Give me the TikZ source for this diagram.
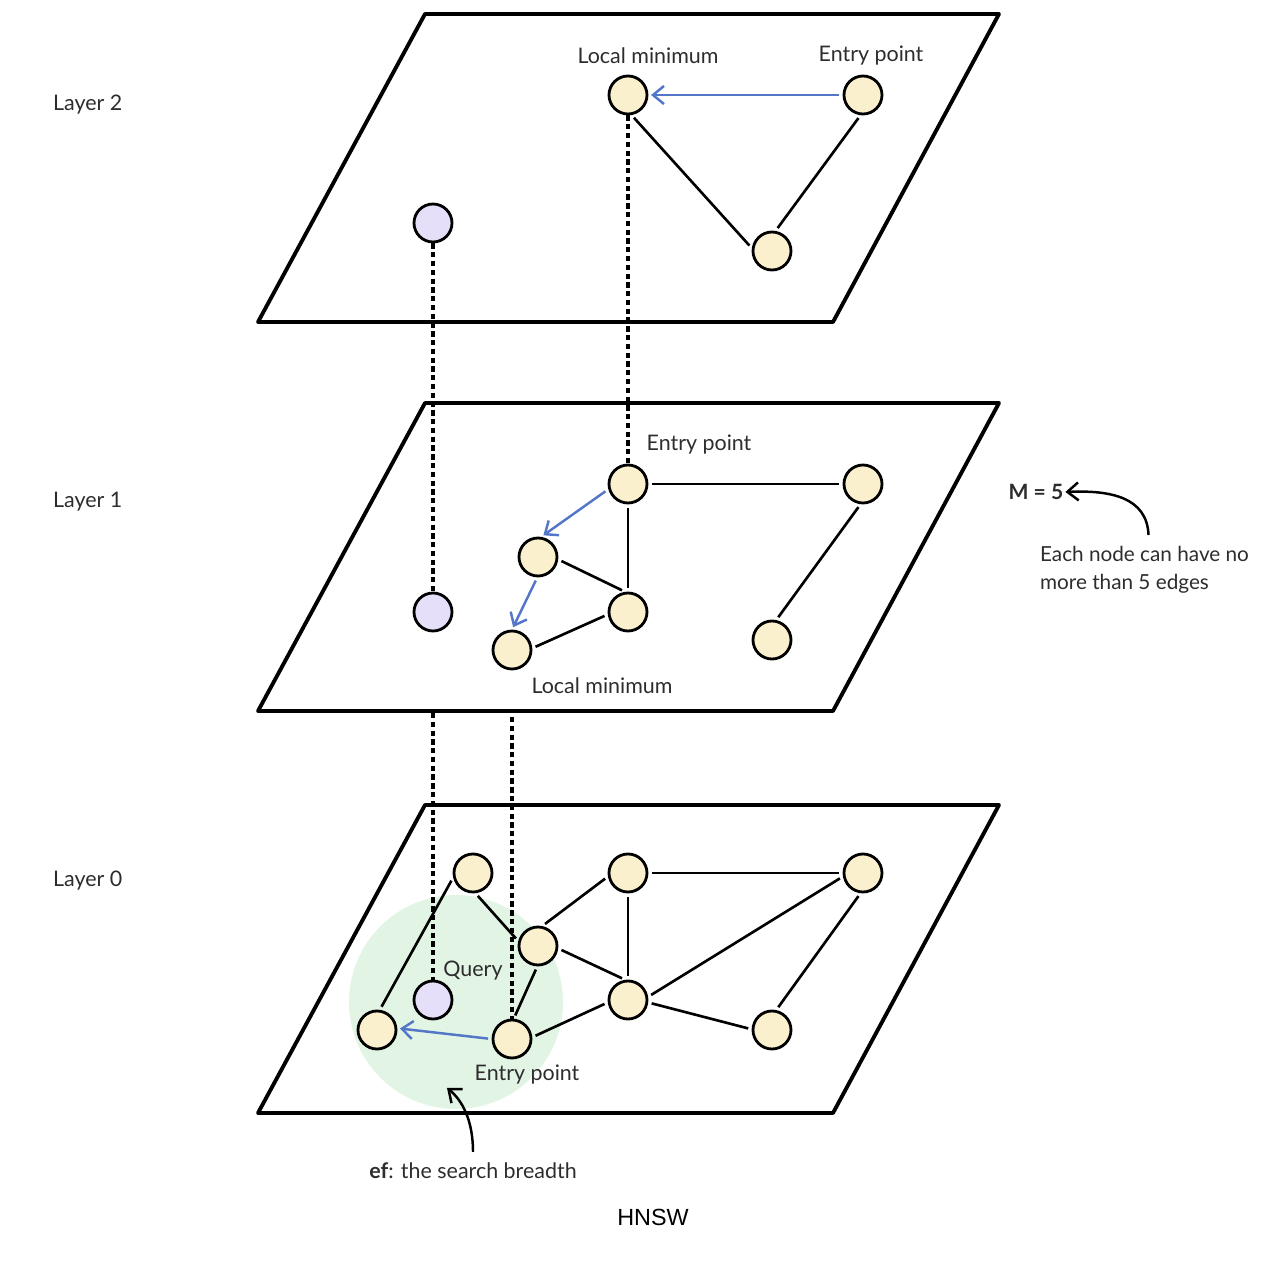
\documentclass[tikz,border=0pt]{standalone}
\usepackage{fontspec}
\setmainfont{Lato}
\newfontfamily\titlefont{Liberation Sans}
\usepackage{xcolor}
\definecolor{nodeyellow}{RGB}{250,240,206}
\definecolor{querypurple}{RGB}{229,223,250}
\definecolor{hopblue}{RGB}{84,118,200}
\definecolor{efgreen}{RGB}{226,244,228}
\definecolor{textgray}{RGB}{45,45,45}
\usetikzlibrary{arrows.meta,calc}
\tikzset{
  vec/.style={circle,draw=black,line width=1.6pt,fill=nodeyellow,
    minimum size=7.6mm,inner sep=0pt},
  qvec/.style={vec,fill=querypurple},
  plane/.style={draw=black,line width=2.2pt,line join=round},
  edge/.style={draw=black,line width=1.5pt,shorten >=2pt,shorten <=2pt},
  hop/.style={-{Straight Barb[length=2.2mm,width=3.6mm]},draw=hopblue,
    line width=1.4pt,shorten >=1.5pt,shorten <=2pt},
  link/.style={draw=black,line width=1.8pt,dash pattern=on 3pt off 2pt},
  note/.style={-{Straight Barb[length=2.2mm,width=3.6mm]},draw=black,line width=1.4pt},
  lbl/.style={text=textgray,font=\fontsize{12.2}{15}\selectfont,inner sep=1pt},
}

\begin{document}
\begin{tikzpicture}[x=0.02cm,y=-0.02cm]
  \useasboundingbox (0,0) rectangle (1286,1270);
  % search breadth
  \fill[efgreen] (456,1002) circle (107);
  % layer planes
  \foreach \y in {14,403,805}{
    \draw[plane] (425,\y) -- (999,\y) -- (833,\y+308) -- (258,\y+308) -- cycle;}
  \node[lbl,anchor=west] (l2) at (51,105) {Layer 2};
  \node[lbl,anchor=west] (l1) at (51,502) {Layer 1};
  \node[lbl,anchor=west] (l0) at (51,881) {Layer 0};
  % Layer 2
  \node[vec] (lm2) at (628,95) {};
  \node[vec] (ep2) at (863,95) {};
  \node[vec] (b2) at (772,251) {};
  \node[qvec] (p2) at (433,223) {};
  \node[lbl] at (648,56) {Local minimum};
  \node[lbl] at (871,56) {Entry point};
  % Layer 1
  \node[vec] (ep1) at (628,484) {};
  \node[vec] (r1) at (863,484) {};
  \node[vec] (a1) at (538,557) {};
  \node[vec] (c1) at (628,612) {};
  \node[vec] (lm1) at (512,650) {};
  \node[vec] (b1) at (772,640) {};
  \node[qvec] (p1) at (433,612) {};
  \node[lbl] at (699,445) {Entry point};
  \node[lbl] at (602,686) {Local minimum};
  % Layer 0
  \node[vec] (t0) at (473,873) {};
  \node[vec] (u0) at (628,873) {};
  \node[vec] (r0) at (863,873) {};
  \node[vec] (a0) at (538,946) {};
  \node[vec] (c0) at (628,1000) {};
  \node[vec] (b0) at (772,1030) {};
  \node[vec] (n0) at (377,1030) {};
  \node[vec] (ep0) at (512,1039) {};
  \node[qvec] (q0) at (433,1000) {};
  \node[lbl] at (473,971) {Query};
  \node[lbl] at (527,1075) {Entry point};
  % links between layers
  \coordinate (d1) at (433,713);
  \coordinate (d2) at (512,717);
  \draw[link] (p2) -- (p1);
  \draw[link] (lm2) -- (ep1);
  \draw[link] (d1) -- (q0);
  \draw[link] (d2) -- (ep0);
  % edges
  \foreach \a/\b in {lm2.-80/b2.172,ep2.-97/b2.80,
    ep1/r1,ep1/c1,a1.-7/c1.98,c1.187/lm1.5,r1.-97/b1.78,
    t0.-83/a0.166,t0.193/n0.82,u0.190/a0.78,u0/r0,u0/c0,a0.-7/c0.98,a0.-92/ep0.85,
    c0.187/ep0.5,c0.9/r0.190,c0.-7/b0.178,r0.-97/b0.78}{\draw[edge] (\a) -- (\b);}
  % greedy hops
  \foreach \a/\b in {ep2/lm2,ep1.195/a1.81,a1.-92/lm1.90,ep0.180/n0.5}{\draw[hop] (\a) -- (\b);}
  % notes
  \node[lbl,font=\fontsize{12}{15}\selectfont\bfseries] (m5) at (1036,492) {M = 5};
  \node[lbl,align=left,anchor=north west,font=\fontsize{11.8}{16}\selectfont] (mnote) at (1038,544)
      {Each node can have no\\more than 5 edges};
  \draw[note] ($(mnote.north)+(4,-9)$) .. controls (1147,497) and (1110,490) .. (m5.east);
  \node[lbl] (ef) at (473,1171) {\textbf{ef}: the search breadth};
  \coordinate (eftip) at (447,1088);
  \draw[note] ($(ef.north)+(0,-9)$) .. controls (473,1120) and (462,1100) .. (eftip);
  \node[text=black,font=\titlefont\fontsize{13.3}{16}\selectfont] (title) at (653,1217) {HNSW};
\end{tikzpicture}
\end{document}
